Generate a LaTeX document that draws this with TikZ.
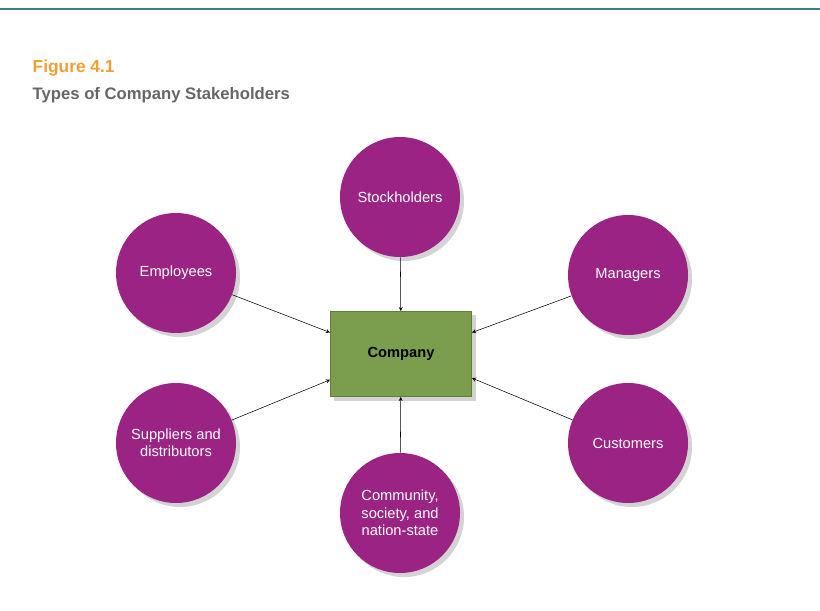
\documentclass[tikz,border=0pt]{standalone}
\usepackage{fontspec}
\setmainfont{Liberation Sans}
\usetikzlibrary{arrows,positioning,calc,shadows}
\definecolor{stakepurple}{HTML}{9A2383}
\definecolor{compgreen}{HTML}{7A9E4E}
\definecolor{rulecolor}{HTML}{3B7F86}
\definecolor{figorange}{HTML}{F0A030}
\definecolor{subgray}{HTML}{666666}

\begin{document}
\begin{tikzpicture}[
    x=0.75pt, y=-0.75pt,
    every node/.style={font=\fontsize{11}{13}\selectfont},
    stake/.style={circle, fill=stakepurple, text=white, minimum size=90pt, align=center, inner sep=0pt,
                  drop shadow={shadow xshift=3pt, shadow yshift=-3pt, opacity=0.35}},
    block/.style={rectangle, fill=compgreen, draw=compgreen!80!black, minimum width=106pt, minimum height=64pt,
                  font=\fontsize{11}{13}\selectfont\bfseries,
                  drop shadow={shadow xshift=3pt, shadow yshift=-3pt, opacity=0.35}},
    arrow/.style={->,>=stealth, thin}
]
\useasboundingbox (0,0) rectangle (820,610);
\draw[rulecolor, line width=2pt] (0,9) -- (820,9);
\node[anchor=west, text=figorange, font=\fontsize{13}{15}\selectfont\bfseries] (fig) at (28,68) {Figure 4.1};
\node[anchor=west, text=subgray, font=\fontsize{12.5}{15}\selectfont\bfseries] (sub) at (28,95) {Types of Company Stakeholders};

\node[block] (company) at (401,354) {Company};

\node[stake] (stock) at (400,197) {Stockholders};
\node[stake] (empl) at (176,273) {Employees};
\node[stake] (mgr) at (628,275) {Managers};
\node[stake] (supp) at (176,443) {Suppliers and\\distributors};
\node[stake] (cust) at (628,443) {Customers};
\node[stake] (comm) at (400,513) {Community,\\society, and\\nation-state};

\draw[arrow] (stock) -- (company);
\draw[arrow] (comm) -- (company);
\draw[arrow] (empl) -- ($(company.north west)!0.25!(company.south west)$);
\draw[arrow] (supp) -- ($(company.north west)!0.8!(company.south west)$);
\draw[arrow] (mgr) -- ($(company.north east)!0.25!(company.south east)$);
\draw[arrow] (cust) -- ($(company.north east)!0.78!(company.south east)$);
\end{tikzpicture}
\end{document}
